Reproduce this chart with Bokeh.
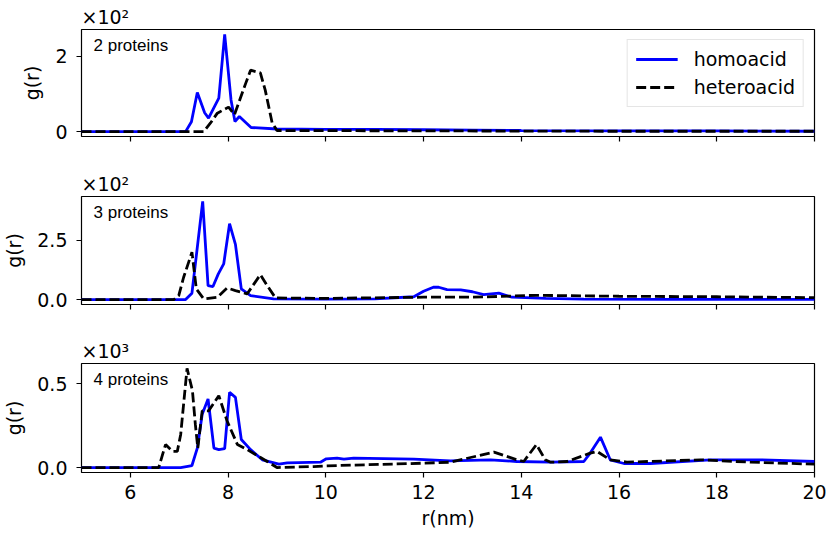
from bokeh.plotting import figure
from bokeh.layouts import column
from bokeh.models import Label, Legend, LegendItem, FixedTicker
from bokeh.embed import file_html
from bokeh.resources import INLINE

# ---- data: r (nm) and g(r) values ----
r2_homo = [5.0, 7.13, 7.25, 7.37, 7.52, 7.6, 7.81, 7.93, 8.06, 8.14, 8.23, 8.47, 9.0, 10.0, 11.0, 12.0, 13.0, 14.0, 16.0, 18.0, 20.0]
g2_homo = [0, 0, 26, 104, 50, 36, 89, 258, 84, 27, 40, 11, 7, 6, 6, 5, 4, 3, 2, 2, 1]
r2_hetero = [5.0, 7.5, 7.64, 7.78, 8.01, 8.13, 8.36, 8.46, 8.66, 8.76, 8.9, 9.0, 12.0, 16.0, 20.0]
g2_hetero = [0, 0, 23, 49, 65, 45, 128, 163, 156, 110, 24, 3, 2, 1, 1]

r3_homo = [5.0, 7.13, 7.26, 7.48, 7.59, 7.69, 7.8, 7.91, 8.03, 8.15, 8.27, 8.46, 8.93, 10.0, 11.0, 11.8, 12.0, 12.2, 12.31, 12.48, 12.76, 13.0, 13.23, 13.54, 13.81, 14.5, 15.28, 17.0, 20.0]
g3_homo = [0, 0, 27, 413, 59, 55, 108, 150, 319, 232, 45, 17, 3, 2, 3, 12, 35, 52, 52, 42, 41, 33, 21, 27, 10, 5, 2, 1, 1]
r3_hetero = [5.0, 6.89, 6.99, 7.09, 7.26, 7.35, 7.5, 7.78, 7.98, 8.15, 8.39, 8.66, 8.8, 8.97, 10.0, 12.0, 13.0, 14.3, 16.0, 18.0, 20.0]
g3_hetero = [0, 0, 17, 94, 199, 45, 3, 10, 49, 38, 24, 105, 59, 7, 5, 10, 10, 18, 14, 12, 8]

r4_homo = [5.0, 7.03, 7.26, 7.37, 7.47, 7.59, 7.71, 7.81, 7.93, 8.03, 8.15, 8.27, 8.46, 8.7, 9.04, 9.21, 9.89, 10.01, 10.23, 10.37, 10.57, 11.8, 12.55, 13.37, 13.91, 14.6, 15.28, 15.41, 15.62, 15.82, 16.1, 16.64, 17.87, 18.89, 20.0]
g4_homo = [0, 0, 12, 116, 317, 408, 116, 107, 113, 448, 418, 167, 107, 46, 20, 28, 32, 52, 56, 50, 56, 50, 40, 46, 36, 32, 36, 86, 181, 46, 24, 24, 46, 46, 36]
r4_hetero = [5.0, 6.58, 6.72, 6.86, 6.96, 7.03, 7.16, 7.27, 7.33, 7.38, 7.47, 7.6, 7.81, 7.98, 8.19, 8.39, 8.8, 9.0, 9.75, 10.0, 12.0, 12.55, 13.44, 13.91, 14.05, 14.31, 14.49, 14.6, 14.94, 15.41, 15.55, 15.82, 16.16, 17.67, 18.69, 20.0]
g4_hetero = [0, 0, 137, 96, 96, 197, 590, 458, 257, 116, 337, 337, 428, 277, 137, 107, 36, 0, 6, 10, 26, 32, 92, 46, 36, 137, 46, 32, 36, 86, 96, 46, 32, 46, 32, 20]

x_ticks = [6, 8, 10, 12, 14, 16, 18, 20]
y_ticks_2 = [0, 200]
y_labels_2 = ["0", "2"]
y_ticks_3 = [0, 250]
y_labels_3 = ["0.0", "2.5"]
y_ticks_4 = [0, 500]
y_labels_4 = ["0.0", "0.5"]

panel_names = ["2 proteins", "3 proteins", "4 proteins"]
exponents = ["×10²", "×10²", "×10³"]
series_names = ["homoacid", "heteroacid"]

FONT = "DejaVu Sans"
FS = "19px"


def make_panel(height, top, bottom, xh, yh, xe, ye, yt, yl, name, expo, show_x, legend=False):
    lo = min(min(yh), min(ye))
    hi = max(max(yh), max(ye))
    pad = 0.05 * (hi - lo)
    p = figure(width=831, height=height, x_range=(5, 20), y_range=(lo - pad, hi + pad),
               output_backend="svg", toolbar_location=None,
               min_border_left=81, min_border_right=17, min_border_top=top, min_border_bottom=bottom)
    p.grid.visible = False
    p.outline_line_color = "black"
    p.outline_line_width = 1.2
    p.outline_line_alpha = 1.0
    p.background_fill_color = "white"
    p.border_fill_color = "white"

    # exponent text above the frame (matplotlib offset text)
    p.title.text = expo
    p.title.align = "left"
    p.title.text_font = FONT
    p.title.text_font_size = FS
    p.title.text_font_style = "normal"
    p.title.text_color = "black"
    p.title.standoff = 3
    p.title.offset = 0

    for ax in (p.xaxis[0], p.yaxis[0]):
        ax.axis_line_color = None
        ax.major_tick_in = 0
        ax.major_tick_out = 5
        ax.major_tick_line_color = "black"
        ax.major_tick_line_width = 1.2
        ax.minor_tick_line_color = None
        ax.major_label_text_font = FONT
        ax.major_label_text_font_size = FS
        ax.major_label_text_color = "black"
        ax.axis_label_text_font = FONT
        ax.axis_label_text_font_size = FS
        ax.axis_label_text_font_style = "normal"
        ax.axis_label_text_color = "black"

    p.xaxis.ticker = FixedTicker(ticks=x_ticks)
    if show_x:
        p.xaxis.major_label_standoff = 7
        p.xaxis.axis_label = "r(nm)"
        p.xaxis.axis_label_standoff = 5
    else:
        p.xaxis.major_label_standoff = 0
        p.xaxis.major_label_overrides = {t: "" for t in x_ticks}

    p.yaxis.ticker = FixedTicker(ticks=yt)
    p.yaxis.major_label_overrides = {t: l for t, l in zip(yt, yl)}
    p.yaxis.major_label_standoff = 9
    p.yaxis.axis_label = "g(r)"
    p.yaxis.axis_label_standoff = 9

    r1 = p.line(xh, yh, line_color="#0000ff", line_width=2.8)
    r2 = p.line(xe, ye, line_color="black", line_width=2.8, line_dash="10 4")

    p.add_layout(Label(x=5, y=hi + pad, text=name, x_offset=12, y_offset=-6,
                       text_baseline="top", text_align="left",
                       text_font="Liberation Sans", text_font_size="17px", text_color="black"))

    if legend:
        lg = Legend(items=[LegendItem(label=series_names[0], renderers=[r1]),
                           LegendItem(label=series_names[1], renderers=[r2])],
                    location="top_right", margin=10, padding=8, spacing=6,
                    glyph_width=42, glyph_height=20, label_height=20, label_standoff=16,
                    label_text_font=FONT, label_text_font_size=FS, label_text_color="black",
                    border_line_color="#cccccc", border_line_width=1.2,
                    background_fill_color="white", background_fill_alpha=0.8)
        p.add_layout(lg)
    return p


p1 = make_panel(166, 29, 30, r2_homo, g2_homo, r2_hetero, g2_hetero, y_ticks_2, y_labels_2,
                panel_names[0], exponents[0], False, legend=True)
p2 = make_panel(168, 30, 30, r3_homo, g3_homo, r3_hetero, g3_hetero, y_ticks_3, y_labels_3,
                panel_names[1], exponents[1], False)
p3 = make_panel(202, 29, 64, r4_homo, g4_homo, r4_hetero, g4_hetero, y_ticks_4, y_labels_4,
                panel_names[2], exponents[2], True)

layout = column(p1, p2, p3, spacing=0)
open("out.html", "w").write(file_html(layout, INLINE))
